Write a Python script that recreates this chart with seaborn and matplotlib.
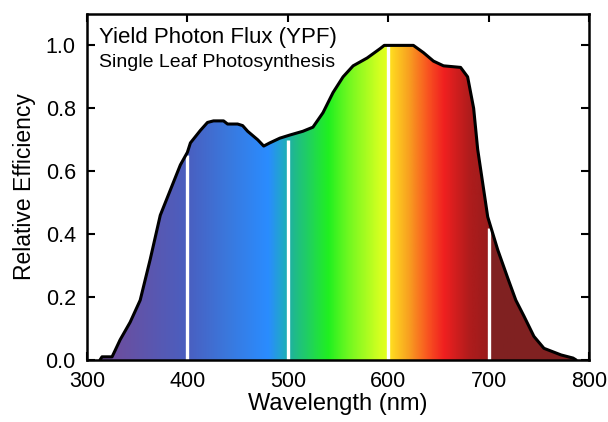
import numpy as np
import matplotlib
matplotlib.use("Agg")
import matplotlib.pyplot as plt
from matplotlib.colors import LinearSegmentedColormap
import seaborn as sns
import pandas as pd

# ---- data ----
wavelength = [313, 315, 325, 328, 333, 343, 353, 363, 373, 383, 393, 400, 403, 413,
              420, 426, 436, 440, 450, 455, 460, 470, 476, 482, 492, 502, 515, 525,
              535, 545, 555, 565, 579, 592, 596, 625, 635, 645, 655, 672, 679, 685,
              689, 699, 709, 719, 727, 735, 745, 755, 772, 784, 787]
efficiency = [0.0, 0.01, 0.01, 0.03, 0.064, 0.12, 0.19, 0.32, 0.46, 0.54, 0.62, 0.66,
              0.69, 0.73, 0.755, 0.76, 0.76, 0.75, 0.75, 0.745, 0.727, 0.70, 0.68,
              0.69, 0.705, 0.715, 0.727, 0.74, 0.786, 0.85, 0.90, 0.935, 0.96, 0.99,
              1.0, 1.0, 0.977, 0.95, 0.935, 0.93, 0.90, 0.80, 0.67, 0.455, 0.35, 0.26,
              0.19, 0.14, 0.075, 0.037, 0.016, 0.006, 0.0]
marker_wl = [400, 500, 600, 700]
marker_top = [0.65, 0.70, 1.0, 0.42]
xticks = [300, 400, 500, 600, 700, 800]
yticks = [0.0, 0.2, 0.4, 0.6, 0.8, 1.0]

# spectrum colour stops (wavelength, colour)
stop_wl = [310, 330, 400, 440, 480, 495, 505, 520, 540, 560, 590, 599, 601, 620, 640,
           655, 680, 699, 701, 800]
stop_col = ["#6a4c9c", "#6a4fa0", "#4a5fc0", "#3a78dd", "#2a8cff", "#20a8c8", "#1fb890",
            "#20d060", "#20f020", "#70f820", "#d0ff20", "#e4ff20", "#ffe020", "#f8a020",
            "#f85020", "#f02020", "#b01c1c", "#9a1c1c", "#802222", "#802020"]

df = pd.DataFrame({"Wavelength": wavelength, "Efficiency": efficiency})

sns.set_style("ticks")
plt.rcParams["font.family"] = ["Liberation Sans", "DejaVu Sans"]
plt.rcParams["text.color"] = "black"
plt.rcParams["axes.labelcolor"] = "black"

fig = plt.figure(figsize=(6.08, 4.22), dpi=100)
ax = fig.add_axes([0.143, 0.147, 0.826, 0.820])

xmin, xmax = 300, 800
ymin, ymax = 0.0, 1.1
ax.set_xlim(xmin, xmax)
ax.set_ylim(ymin, ymax)

# gradient fill clipped to the curve
pos = [(w - stop_wl[0]) / (stop_wl[-1] - stop_wl[0]) for w in stop_wl]
cmap = LinearSegmentedColormap.from_list("spec", list(zip(pos, stop_col)), N=1024)
grad = np.linspace(0, 1, 1000).reshape(1, -1)
poly = ax.fill_between(df["Wavelength"], 0, df["Efficiency"], color="none", lw=0)
img = ax.imshow(grad, cmap=cmap, aspect="auto",
                extent=[stop_wl[0], stop_wl[-1], 0, 1.05], origin="lower", zorder=1)
path = poly.get_paths()[0]
img.set_clip_path(path, transform=ax.transData)

# white marker lines
ax.vlines(marker_wl, 0, marker_top, colors="white", linewidth=2.4, zorder=2)

# outline
sns.lineplot(data=df, x="Wavelength", y="Efficiency", color="black", linewidth=2.2,
             ax=ax, zorder=3, sort=False)

ax.set_xticks(xticks)
ax.set_yticks(yticks)
ax.set_yticklabels([f"{v:.1f}" for v in yticks])
ax.tick_params(direction="in", length=6, width=1.5, top=True, right=True,
               labelsize=15.5, colors="black", labelcolor="black", pad=8)
for s in ax.spines.values():
    s.set_linewidth(1.8)
    s.set_color("black")

ax.set_xlabel("Wavelength (nm)", fontsize=17, labelpad=1, color="black")
ax.set_ylabel("Relative Efficiency", fontsize=16.5, labelpad=7, color="black")

ax.text(0.025, 0.962, "Yield Photon Flux (YPF)", transform=ax.transAxes,
        fontsize=16, va="top", ha="left", color="black")
ax.text(0.025, 0.885, "Single Leaf Photosynthesis", transform=ax.transAxes,
        fontsize=14, va="top", ha="left", color="black")

fig.savefig("out.png", dpi=100)
